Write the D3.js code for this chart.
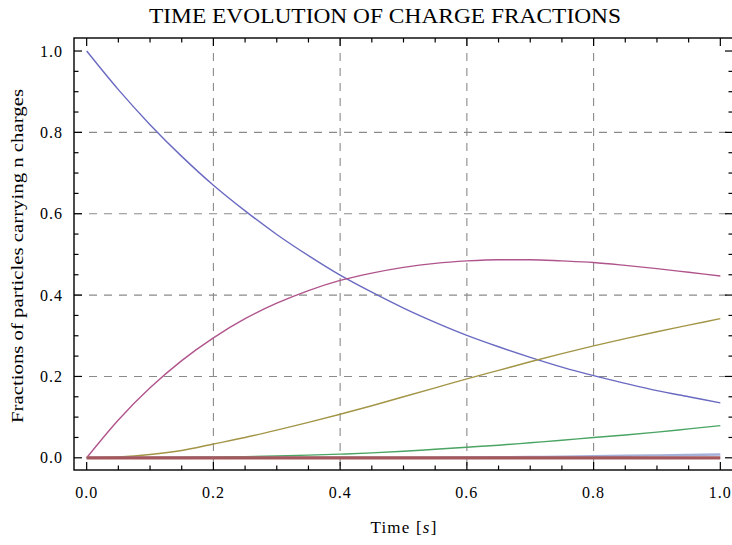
<!DOCTYPE html>
<html lang="en">
<head>
<meta charset="UTF-8">
<title>Time evolution of charge fractions</title>
<script src="https://cdn.jsdelivr.net/npm/d3@7/dist/d3.min.js"></script>
<style>
  body { margin: 0; background: #fff; }
  svg text { font-family: "Liberation Serif", "DejaVu Serif", serif; fill: #000; }
</style>
</head>
<body>
<div id="chart"></div>
<script>
// time samples (s)
var times = [0, 0.05, 0.1, 0.15, 0.2, 0.25, 0.3, 0.35, 0.4, 0.45, 0.5,
             0.55, 0.6, 0.65, 0.7, 0.75, 0.8, 0.85, 0.9, 0.95, 1.0];

// fraction of particles carrying n charges
var n0 = [1.0, 0.905, 0.819, 0.741, 0.670, 0.607, 0.549, 0.497, 0.449, 0.407, 0.368,
          0.333, 0.301, 0.273, 0.247, 0.223, 0.202, 0.183, 0.165, 0.150, 0.135];
var n1 = [0, 0.093, 0.172, 0.239, 0.295, 0.342, 0.380, 0.411, 0.436, 0.454, 0.468,
          0.478, 0.484, 0.487, 0.487, 0.484, 0.480, 0.473, 0.465, 0.456, 0.447];
var n2 = [0, 0.002, 0.008, 0.018, 0.034, 0.050, 0.068, 0.087, 0.107, 0.128, 0.150,
          0.172, 0.194, 0.215, 0.236, 0.256, 0.275, 0.293, 0.310, 0.326, 0.342];
var n3 = [0, 0, 0.0003, 0.001, 0.0015, 0.003, 0.0045, 0.0065, 0.009, 0.012, 0.016,
          0.021, 0.026, 0.031, 0.037, 0.043, 0.050, 0.056, 0.063, 0.071, 0.079];
var n4 = [0, 0, 0, 0, 0, 0, 0, 0, 0, 0, 0,
          0.0005, 0.001, 0.0015, 0.002, 0.003, 0.004, 0.005, 0.006, 0.007, 0.008];
var n5 = [0, 0, 0, 0, 0, 0, 0, 0, 0, 0, 0,
          0, 0, 0, 0, 0, 0, 0, 0, 0, 0];

var series = [
  { values: n0, color: "#6a6ac2", width: 1.4 },
  { values: n1, color: "#b0548c", width: 1.4 },
  { values: n2, color: "#a39546", width: 1.4 },
  { values: n3, color: "#4aa463", width: 1.4 },
  { values: n4, color: "#a4b0d8", width: 2.4 },
  { values: n5, color: "#a4585c", width: 3.2 }
];

var xTicks = [0, 0.2, 0.4, 0.6, 0.8, 1.0];
var yTicks = [0, 0.2, 0.4, 0.6, 0.8, 1.0];
var gridVals = [0.2, 0.4, 0.6, 0.8];
var minorVals = d3.range(0, 21).map(function(i) { return i * 0.05; });

var W = 732, H = 545;
var pLeft = 74, pRight = 733, pTop = 38, pBottom = 470;

var x = d3.scaleLinear().domain([-0.02, 1.02]).range([pLeft, pRight]);
var y = d3.scaleLinear().domain([-0.03, 1.032]).range([pBottom, pTop]);

var svg = d3.select("#chart").append("svg")
    .attr("width", W).attr("height", H);

// dashed grid
var grid = svg.append("g").attr("stroke", "#8a8a8a").attr("stroke-width", 1.1)
    .attr("stroke-dasharray", "8,7");
grid.selectAll(".gx").data(gridVals).enter().append("line")
    .attr("x1", function(d) { return x(d); }).attr("x2", function(d) { return x(d); })
    .attr("y1", pTop).attr("y2", pBottom);
grid.selectAll(".gy").data(gridVals).enter().append("line")
    .attr("y1", function(d) { return y(d); }).attr("y2", function(d) { return y(d); })
    .attr("x1", pLeft).attr("x2", pRight);

// curves
var line = d3.line()
    .x(function(d, i) { return x(times[i]); })
    .y(function(d) { return y(d); })
    .curve(d3.curveMonotoneX);

svg.append("g").selectAll("path").data(series).enter().append("path")
    .attr("d", function(s) { return line(s.values); })
    .attr("fill", "none")
    .attr("stroke", function(s) { return s.color; })
    .attr("stroke-width", function(s) { return s.width; });

// frame ticks (inward) on all four sides
function isMajor(v) { return Math.abs(v * 5 - Math.round(v * 5)) < 1e-6; }
var tickLen = function(v) { return isMajor(v) ? 8 : 4.5; };

var ticks = svg.append("g").attr("stroke", "#000").attr("stroke-width", 1.2);
ticks.selectAll(".tb").data(minorVals).enter().append("line")
    .attr("x1", function(d) { return x(d); }).attr("x2", function(d) { return x(d); })
    .attr("y1", pBottom).attr("y2", function(d) { return pBottom - tickLen(d); });
ticks.selectAll(".tt").data(minorVals).enter().append("line")
    .attr("x1", function(d) { return x(d); }).attr("x2", function(d) { return x(d); })
    .attr("y1", pTop).attr("y2", function(d) { return pTop + tickLen(d); });
ticks.selectAll(".tl").data(minorVals).enter().append("line")
    .attr("y1", function(d) { return y(d); }).attr("y2", function(d) { return y(d); })
    .attr("x1", pLeft).attr("x2", function(d) { return pLeft + tickLen(d); });
ticks.selectAll(".tr").data(minorVals).enter().append("line")
    .attr("y1", function(d) { return y(d); }).attr("y2", function(d) { return y(d); })
    .attr("x1", pRight).attr("x2", function(d) { return pRight - tickLen(d); });

// frame
svg.append("rect")
    .attr("x", pLeft).attr("y", pTop)
    .attr("width", pRight - pLeft).attr("height", pBottom - pTop)
    .attr("fill", "none").attr("stroke", "#000").attr("stroke-width", 1.4);

// tick labels
svg.append("g").selectAll("text").data(xTicks).enter().append("text")
    .attr("x", function(d) { return x(d); })
    .attr("y", 498)
    .attr("text-anchor", "middle")
    .style("font-size", "16px")
    .style("letter-spacing", "1px")
    .text(function(d) { return d3.format(".1f")(d); });

svg.append("g").selectAll("text").data(yTicks).enter().append("text")
    .attr("x", 63)
    .attr("y", function(d) { return y(d) + 5.5; })
    .attr("text-anchor", "end")
    .style("font-size", "16px")
    .style("letter-spacing", "1px")
    .text(function(d) { return d3.format(".1f")(d); });

// title and axis labels
svg.append("text")
    .attr("x", 385).attr("y", 23)
    .attr("text-anchor", "middle")
    .attr("textLength", 472)
    .attr("lengthAdjust", "spacingAndGlyphs")
    .style("font-size", "21px")
    .text("TIME EVOLUTION OF CHARGE FRACTIONS");

var xl = svg.append("text")
    .attr("x", 404).attr("y", 533)
    .attr("text-anchor", "middle")
    .style("font-size", "17px")
    .style("letter-spacing", "1.2px");
xl.append("tspan").text("Time [");
xl.append("tspan").style("font-style", "italic").text("s");
xl.append("tspan").text("]");

svg.append("text")
    .attr("transform", "translate(23,256) rotate(-90)")
    .attr("text-anchor", "middle")
    .attr("textLength", 334)
    .attr("lengthAdjust", "spacingAndGlyphs")
    .style("font-size", "17px")
    .text("Fractions of particles carrying n charges");
</script>
</body>
</html>
